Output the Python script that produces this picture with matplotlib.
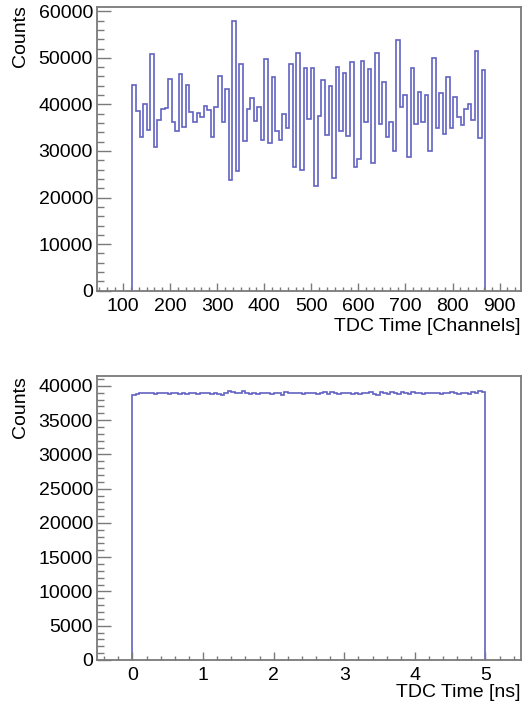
import numpy as np
import matplotlib
matplotlib.use("Agg")
from matplotlib import pyplot as plt
from matplotlib.ticker import MultipleLocator

plt.rcParams['font.family'] = ['Liberation Sans', 'DejaVu Sans']

# top histogram: raw TDC channels (bin contents)
chan_lo, chan_hi = 120, 870
chan_counts = [
    44200, 38500, 33000, 40100, 34400, 50800, 30800, 36700, 39000, 39300,
    45400, 36200, 34200, 46500, 35100, 44200, 38300, 36200, 38200, 37200,
    39700, 38700, 33100, 39400, 46200, 36200, 43200, 23700, 57900, 25700,
    48600, 32100, 39000, 41400, 36500, 39400, 32400, 49700, 31700, 45800,
    34300, 32300, 38000, 35000, 48600, 26600, 51100, 25900, 47800, 36900,
    47800, 22400, 37500, 45300, 33500, 44000, 24100, 48100, 34200, 46700,
    33300, 49000, 26600, 28300, 49400, 36200, 47700, 27500, 51100, 35800,
    44900, 33100, 36200, 30000, 53800, 39400, 42000, 28700, 47800, 35700,
    42600, 36200, 42100, 30100, 49900, 35000, 42400, 33700, 45900, 34900,
    41500, 37200, 35500, 39000, 40100, 36700, 51500, 32800, 47400,
]

# bottom histogram: calibrated time in ns
ns_lo, ns_hi = 0.0, 5.0
ns_counts = [
    38700, 38800, 39000, 38900, 39000, 38900, 38800, 38900, 39000, 38900,
    38800, 38900, 39000, 38800, 38900, 38800, 39000, 38900, 38800, 38900,
    39000, 38900, 38800, 38900, 38800, 38700, 39000, 39300, 39100, 38900,
    39000, 39200, 39000, 38800, 38900, 38800, 38900, 39000, 38900, 38800,
    38900, 39000, 38700, 39100, 39000, 38900, 38900, 39000, 38800, 38900,
    39000, 38900, 38800, 39000, 39100, 38800, 39100, 38900, 38800, 38900,
    39000, 38900, 38800, 38900, 38800, 38900, 39000, 39100, 38800, 38700,
    39100, 39000, 38800, 39100, 38900, 38800, 39100, 39000, 38800, 39100,
    38900, 39000, 38800, 38900, 38900, 39000, 38900, 38800, 38900, 39000,
    39100, 38900, 38800, 39000, 38900, 38800, 39100, 39000, 39300, 39100,
]

line_col = '#6262c4'
frame_col = '#7a7a7a'
fs = 14

fig = plt.figure(figsize=(5.25, 7.04), dpi=100)
ax1 = fig.add_axes([0.185, 0.587, 0.807, 0.403])
ax2 = fig.add_axes([0.185, 0.0625, 0.807, 0.4035])


def style(ax, xmaj, xmin, ymaj, ymin):
    for s in ax.spines.values():
        s.set_color(frame_col)
        s.set_linewidth(1.3)
    ax.xaxis.set_major_locator(MultipleLocator(xmaj))
    ax.xaxis.set_minor_locator(MultipleLocator(xmin))
    ax.yaxis.set_major_locator(MultipleLocator(ymaj))
    ax.yaxis.set_minor_locator(MultipleLocator(ymin))
    ax.tick_params(which='both', direction='in', top=False, right=False,
                   color=frame_col, labelsize=fs, width=1.0)
    ax.tick_params(axis='x', which='major', length=5.5, pad=5)
    ax.tick_params(axis='x', which='minor', length=2.8)
    ax.tick_params(axis='y', which='major', length=10, pad=3)
    ax.tick_params(axis='y', which='minor', length=5)


# top panel
edges1 = np.linspace(chan_lo, chan_hi, len(chan_counts) + 1)
ax1.stairs(chan_counts, edges1, baseline=0, color=line_col, lw=1.2)
ax1.set_xlim(45, 945)
ax1.set_ylim(0, 60900)
style(ax1, 100, 100 / 6, 10000, 2000)
ax1.text(1.0, -0.125, 'TDC Time [Channels]', transform=ax1.transAxes,
         ha='right', va='center', fontsize=fs)
ax1.text(-0.18, 1.007, 'Counts', transform=ax1.transAxes, rotation=90,
         ha='center', va='top', fontsize=fs)

# bottom panel
edges2 = np.linspace(ns_lo, ns_hi, len(ns_counts) + 1)
ax2.stairs(ns_counts, edges2, baseline=0, color=line_col, lw=1.2)
ax2.set_xlim(-0.5, 5.5)
ax2.set_ylim(0, 41450)
style(ax2, 1, 0.2, 5000, 1000)
ax2.text(1.0, -0.113, 'TDC Time [ns]', transform=ax2.transAxes,
         ha='right', va='center', fontsize=fs)
ax2.text(-0.18, 1.0, 'Counts', transform=ax2.transAxes, rotation=90,
         ha='center', va='top', fontsize=fs)

fig.savefig('out.png', dpi=100)
